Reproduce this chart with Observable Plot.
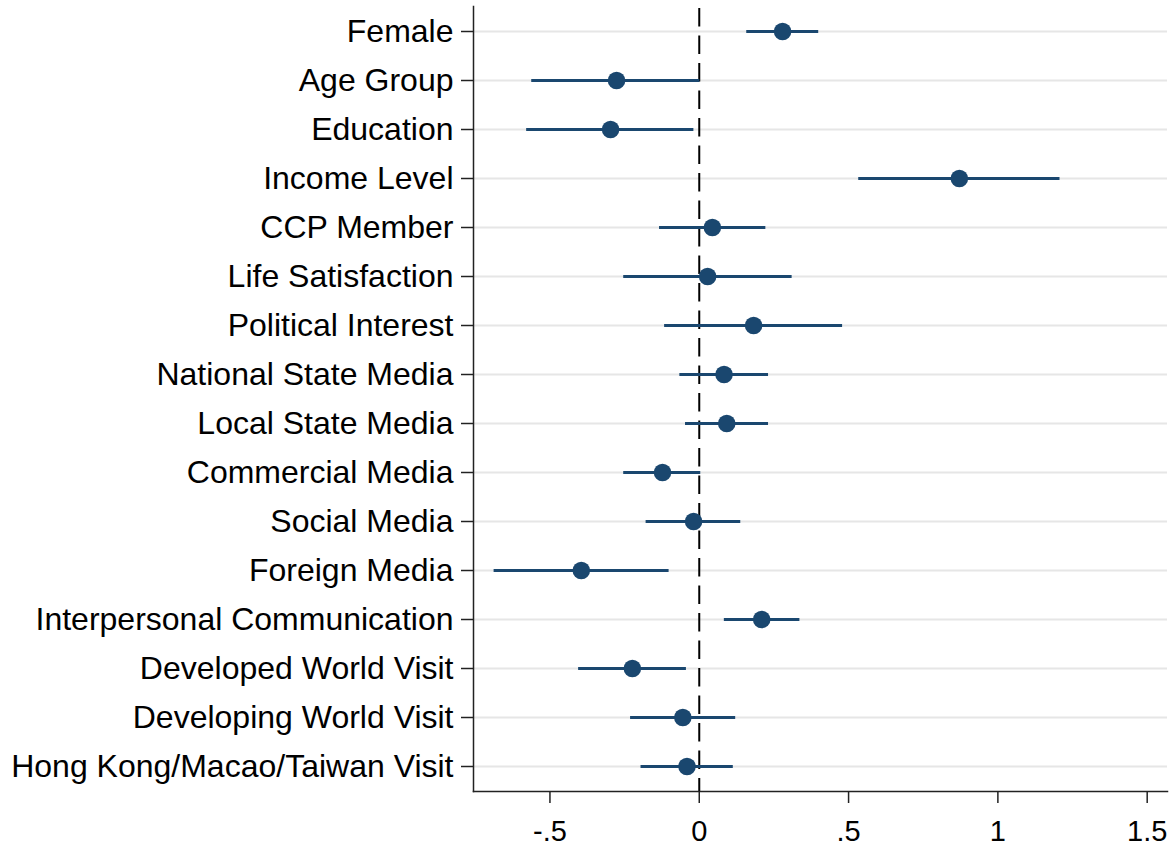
<!DOCTYPE html>
<html>
<head>
<meta charset="utf-8">
<script src="https://cdn.jsdelivr.net/npm/d3@7"></script>
<script src="https://cdn.jsdelivr.net/npm/@observablehq/plot@0.6"></script>
<style>
  html, body { margin: 0; padding: 0; background: #fff; }
  #chart svg { display: block; }
</style>
</head>
<body>
<div id="chart"></div>
<script>
// Predictors, top to bottom
const predictors = [
  "Female",
  "Age Group",
  "Education",
  "Income Level",
  "CCP Member",
  "Life Satisfaction",
  "Political Interest",
  "National State Media",
  "Local State Media",
  "Commercial Media",
  "Social Media",
  "Foreign Media",
  "Interpersonal Communication",
  "Developed World Visit",
  "Developing World Visit",
  "Hong Kong/Macao/Taiwan Visit"
];

// Point estimates
const estimates = [
  0.279, -0.277, -0.297, 0.871, 0.044, 0.028, 0.182, 0.083,
  0.092, -0.123, -0.019, -0.395, 0.209, -0.224, -0.055, -0.041
];

// Lower bounds of the confidence intervals
const lowerBounds = [
  0.159, -0.561, -0.578, 0.534, -0.133, -0.253, -0.116, -0.065,
  -0.046, -0.253, -0.178, -0.687, 0.084, -0.404, -0.230, -0.195
];

// Upper bounds of the confidence intervals
const upperBounds = [
  0.400, 0.002, -0.018, 1.208, 0.223, 0.311, 0.480, 0.232,
  0.232, 0.005, 0.139, -0.101, 0.337, -0.043, 0.122, 0.114
];

// x-axis ticks and their labels
const xTickValues = [-0.5, 0, 0.5, 1, 1.5];
const xTickLabels = ["-.5", "0", ".5", "1", "1.5"];

// Reference value for "no effect"
const referenceValue = 0;

const rows = predictors.map((name, i) => ({
  name,
  est: estimates[i],
  lo: lowerBounds[i],
  hi: upperBounds[i]
}));

const navy = "#1a476f";
const axisInk = "#222";

const chart = Plot.plot({
  width: 1175,
  height: 846,
  marginLeft: 473,
  marginRight: 8,
  marginTop: 6,
  marginBottom: 55,
  style: {
    fontFamily: "'Liberation Sans', Arial, sans-serif",
    color: "#000",
    background: "#fff"
  },
  x: {
    domain: [-0.756, 1.568],
    label: null
  },
  y: {
    type: "point",
    domain: predictors,
    padding: 0.5,
    label: null
  },
  marks: [
    Plot.gridY({stroke: "#e6e6e6", strokeOpacity: 1, strokeWidth: 2}),
    Plot.ruleX([referenceValue], {
      stroke: "#000",
      strokeWidth: 2,
      strokeDasharray: "18.5,9",
      strokeDashoffset: -2
    }),
    Plot.ruleY(rows, {
      y: "name",
      x1: "lo",
      x2: "hi",
      stroke: navy,
      strokeWidth: 3
    }),
    Plot.dot(rows, {
      x: "est",
      y: "name",
      r: 8.8,
      fill: navy,
      stroke: "none"
    }),
    Plot.axisY({
      tickSize: 12,
      tickPadding: 8,
      fontSize: 32,
      stroke: axisInk,
      strokeWidth: 1.5,
      label: null
    }),
    Plot.axisX({
      ticks: xTickValues,
      tickFormat: (d) => xTickLabels[xTickValues.indexOf(d)],
      tickSize: 12,
      tickPadding: 17,
      fontSize: 29,
      stroke: axisInk,
      strokeWidth: 1.5,
      label: null
    }),
    Plot.frame({anchor: "left", stroke: axisInk, strokeWidth: 1.5}),
    Plot.frame({anchor: "bottom", stroke: axisInk, strokeWidth: 1.5})
  ]
});

document.getElementById("chart").append(chart);
</script>
</body>
</html>
